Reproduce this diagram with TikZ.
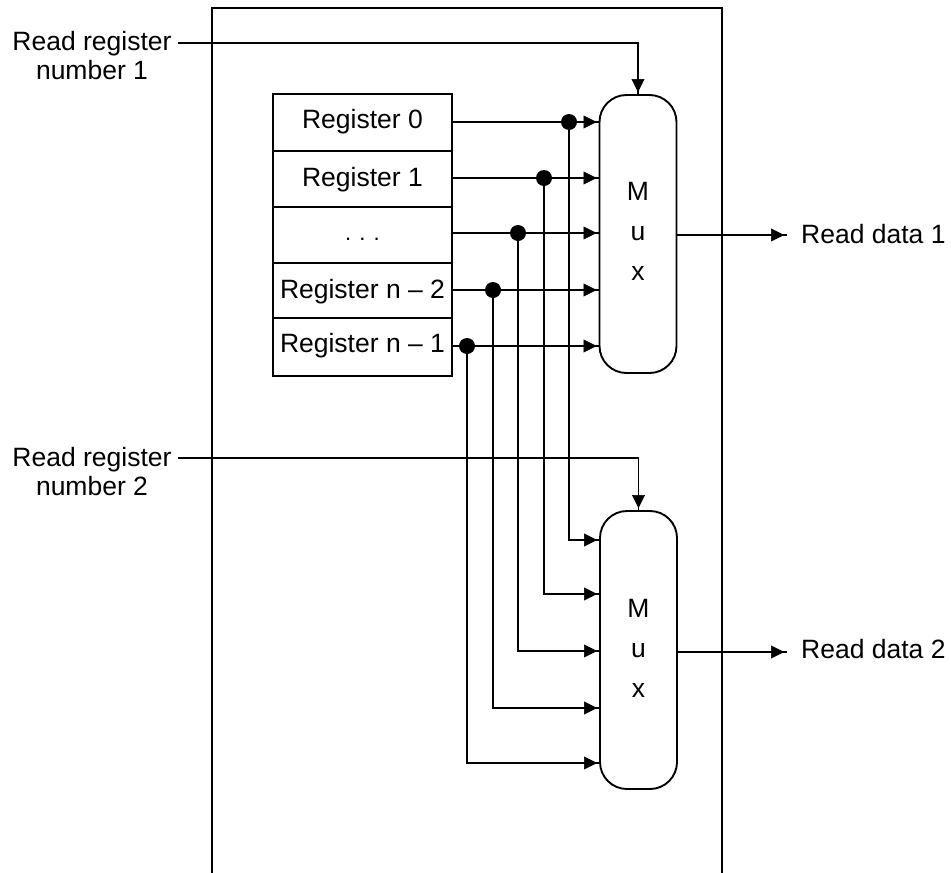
\documentclass[tikz,border=0pt]{standalone}
\usepackage{fontspec}
\setmainfont{Liberation Sans}
\usetikzlibrary{arrows.meta,decorations.markings}
\tikzset{
  wire/.style={line width=1.9pt,line cap=butt,line join=miter},
  endtip/.style={postaction={decorate},decoration={markings,mark=at position -3pt with {\arrow[line width=0.6pt]{Triangle[length=13pt,width=13pt]}}}},
  regcell/.style={draw,line width=2.1pt,minimum width=179pt,inner sep=0pt,outer sep=0pt,
    font=\fontsize{26.5}{29}\selectfont,text height=17pt,text depth=6pt},
  lowtext/.style={text height=20pt,text depth=5pt},
  muxbox/.style={draw,line width=1.9pt,rectangle,rounded corners=27pt,minimum width=77pt,minimum height=278pt,
    inner sep=0pt,outer sep=0pt,align=center,font=\fontsize{26.5}{40}\selectfont},
  junction/.style={circle,fill=black,minimum size=16pt,inner sep=0pt,outer sep=0pt},
  lbl/.style={align=center,inner sep=0pt,font=\fontsize{26.5}{29}\selectfont},
  outlbl/.style={anchor=base west,inner sep=0pt,font=\fontsize{26.5}{29}\selectfont}
}
\begin{document}
\begin{tikzpicture}[x=1pt,y=-1pt]
\useasboundingbox (0,0) rectangle (951,873);
% frame
\coordinate (fa) at (212,873);
\coordinate (fb) at (212,8);
\coordinate (fc) at (722,8);
\coordinate (fd) at (722,873);
\draw[wire] (fa) -- (fb) -- (fc) -- (fd);
% register file
\node[regcell,minimum height=57pt] (r0) at (362.5,122.5) {Register 0};
\node[regcell,lowtext,minimum height=56pt] (r1) at (362.5,179) {Register 1};
\node[regcell,minimum height=56pt,font=\fontsize{22}{29}\selectfont] (r2) at (362.5,235) {. . .};
\node[regcell,lowtext,minimum height=55pt] (r3) at (362.5,290.5) {Register n – 2};
\node[regcell,minimum height=58pt] (r4) at (362.5,347) {Register n – 1};
% muxes
\node[muxbox] (mux1) at (638,234) {M\\u\\x\rule[-6pt]{0pt}{6pt}};
\node[muxbox] (mux2) at (638.5,650) {M\\u\\x\rule[-4pt]{0pt}{4pt}};
% junctions
\node[junction] (d0) at (569,122) {};
\node[junction] (d1) at (544,178) {};
\node[junction] (d2) at (518,233) {};
\node[junction] (d3) at (493,290) {};
\node[junction] (d4) at (467,346) {};
% register outputs
\draw[wire,endtip] (r0.east |- d0) -- (d0 -| mux1.west);
\draw[wire,endtip] (r1.east |- d1) -- (d1 -| mux1.west);
\draw[wire,endtip] (r2.east |- d2) -- (d2 -| mux1.west);
\draw[wire,endtip] (r3.east |- d3) -- (d3 -| mux1.west);
\draw[wire,endtip] (r4.east |- d4) -- (d4 -| mux1.west);
% second mux inputs
\coordinate (i0) at (600,540);
\coordinate (i1) at (600,594);
\coordinate (i2) at (600,651);
\coordinate (i3) at (600,708);
\coordinate (i4) at (600,763);
\draw[wire,endtip] (d0.center) |- (i0);
\draw[wire,endtip] (d1.center) |- (i1);
\draw[wire,endtip] (d2.center) |- (i2);
\draw[wire,endtip] (d3.center) |- (i3);
\draw[wire,endtip] (d4.center) |- (i4);
% read register numbers
\node[lbl] (rr1) at (92,56) {Read register\\number 1};
\node[lbl] (rr2) at (92,472) {Read register\\number 2};
\coordinate (s1) at (178,43);
\coordinate (s2) at (178,458);
\draw[wire,endtip] (s1) -| (mux1.north);
\draw[wire,endtip] (s2) -| (mux2.north);
% outputs
\node[outlbl] (rd1) at (801,243) {Read data 1};
\node[outlbl] (rd2) at (801,658) {Read data 2};
\coordinate (e1) at (787,235);
\coordinate (e2) at (787,652);
\draw[wire,endtip] (mux1.east |- e1) -- (e1);
\draw[wire,endtip] (mux2.east |- e2) -- (e2);
\end{tikzpicture}
\end{document}
